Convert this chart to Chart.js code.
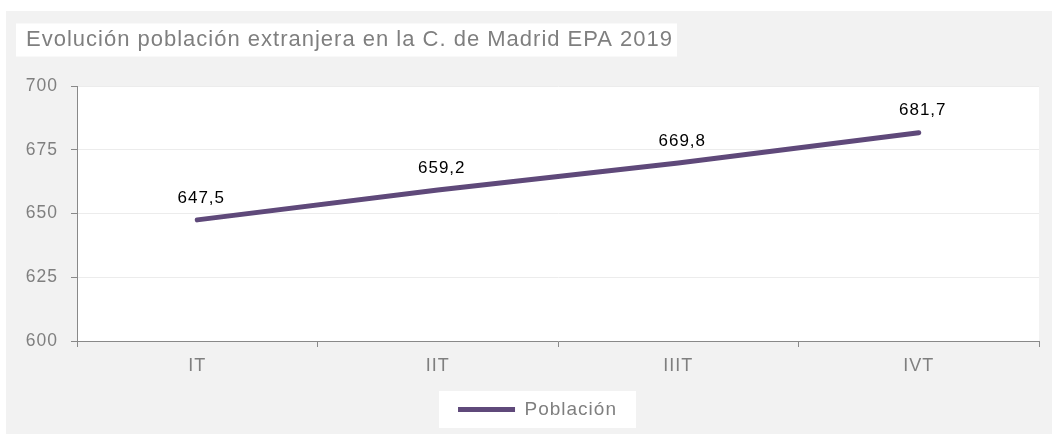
<!DOCTYPE html>
<html>
<head>
<meta charset="utf-8">
<script src="https://cdn.jsdelivr.net/npm/chart.js@4.4.1/dist/chart.umd.min.js"></script>
<style>
  html, body { margin: 0; padding: 0; background: #fff; }
  #wrap { width: 1052px; height: 434px; }
</style>
</head>
<body>
<div id="wrap"><canvas id="grafico" width="1052" height="434"></canvas></div>
<script>
// datos EPA 2019 (miles)
const trimestres = ["IT", "IIT", "IIIT", "IVT"];
const poblacion = [647.5, 659.2, 669.8, 681.7];
const ticksY = [600, 625, 650, 675, 700];
const titulo = "Evolución población extranjera en la C. de Madrid EPA 2019";

const fuente = "'Liberation Sans', Arial, sans-serif";
Chart.defaults.font.family = fuente;

const morado = "#5f497a";
const gris = "#7f7f7f";
const ejes = "#898989";

// espaciado de letras parecido al del original
function espaciar(chart) {
  chart.ctx.letterSpacing = "1px";
}

// fondo gris, recuadros blancos del titulo, area y leyenda
const fondo = {
  id: "fondo",
  beforeLayout: espaciar,
  afterLayout(chart) {
    chart.legend.left += 5;
    chart.legend.right += 5;
  },
  beforeDraw(chart) {
    espaciar(chart);
    const ctx = chart.ctx;
    const a = chart.chartArea;
    ctx.save();
    ctx.fillStyle = "#ffffff";
    ctx.fillRect(0, 0, chart.width, chart.height);
    ctx.fillStyle = "#f2f2f2";
    ctx.fillRect(6, 11, chart.width - 6, chart.height - 11);

    // titulo
    const t = chart.titleBlock;
    const tf = t.options.font;
    ctx.font = tf.size + "px " + fuente;
    const wt = ctx.measureText(titulo).width;
    const cy = t.top + t.options.padding.top + tf.size * 1.2 / 2;
    ctx.fillStyle = "#ffffff";
    ctx.fillRect(t.left - 10, cy - 16.5, wt + 14, 33);

    // area del grafico
    ctx.fillRect(a.left, a.top, a.right - a.left, a.bottom - a.top);

    // leyenda
    const l = chart.legend;
    const lc = (l.left + l.right) / 2;
    const ly = l.top + l.options.labels.padding + l.options.labels.font.size / 2;
    ctx.fillRect(lc - 98.5, ly - 18.5, 197, 37);
    ctx.restore();
  }
};

// etiquetas de datos encima de cada punto
const etiquetas = {
  id: "etiquetas",
  afterDatasetsDraw(chart) {
    const ctx = chart.ctx;
    const meta = chart.getDatasetMeta(0);
    ctx.save();
    ctx.fillStyle = "#000000";
    ctx.font = "17px " + fuente;
    ctx.textAlign = "center";
    ctx.textBaseline = "middle";
    meta.data.forEach((pt, i) => {
      const txt = poblacion[i].toFixed(1).replace(".", ",");
      ctx.fillText(txt, pt.x + 4, pt.y - 22);
    });
    ctx.restore();
  }
};

new Chart(document.getElementById("grafico"), {
  type: "line",
  data: {
    labels: trimestres,
    datasets: [{
      label: "Población",
      data: poblacion,
      borderColor: morado,
      backgroundColor: morado,
      borderWidth: 5,
      borderCapStyle: "round",
      borderJoinStyle: "round",
      pointRadius: 0,
      pointHoverRadius: 0,
      tension: 0,
      fill: false
    }]
  },
  options: {
    responsive: false,
    animation: false,
    devicePixelRatio: 1,
    events: [],
    layout: { padding: { left: 26, right: 13, top: 0, bottom: 5 } },
    plugins: {
      title: {
        display: true,
        text: titulo,
        align: "start",
        color: gris,
        font: { size: 22, weight: "normal" },
        padding: { top: 26.8, bottom: 32.8 }
      },
      legend: {
        position: "bottom",
        labels: {
          usePointStyle: true,
          pointStyle: "line",
          pointStyleWidth: 57,
          padding: 10,
          color: gris,
          font: { size: 19 }
        }
      },
      tooltip: { enabled: false }
    },
    scales: {
      x: {
        offset: true,
        grid: {
          offset: true,
          drawOnChartArea: false,
          drawTicks: true,
          tickLength: 6,
          tickColor: ejes
        },
        border: { color: ejes, width: 1 },
        ticks: { color: gris, font: { size: 18 }, padding: 8 },
        afterFit: s => { s.height = 49; }
      },
      y: {
        min: 600,
        max: 700,
        afterBuildTicks: s => { s.ticks = ticksY.map(v => ({ value: v })); },
        grid: {
          color: "#ececec",
          tickColor: ejes,
          tickLength: 6,
          drawTicks: true
        },
        border: { color: ejes, width: 1 },
        ticks: { color: gris, font: { size: 17.5 }, padding: 13 },
        afterFit: s => { s.width = 51; }
      }
    }
  },
  plugins: [fondo, etiquetas]
});
</script>
</body>
</html>
